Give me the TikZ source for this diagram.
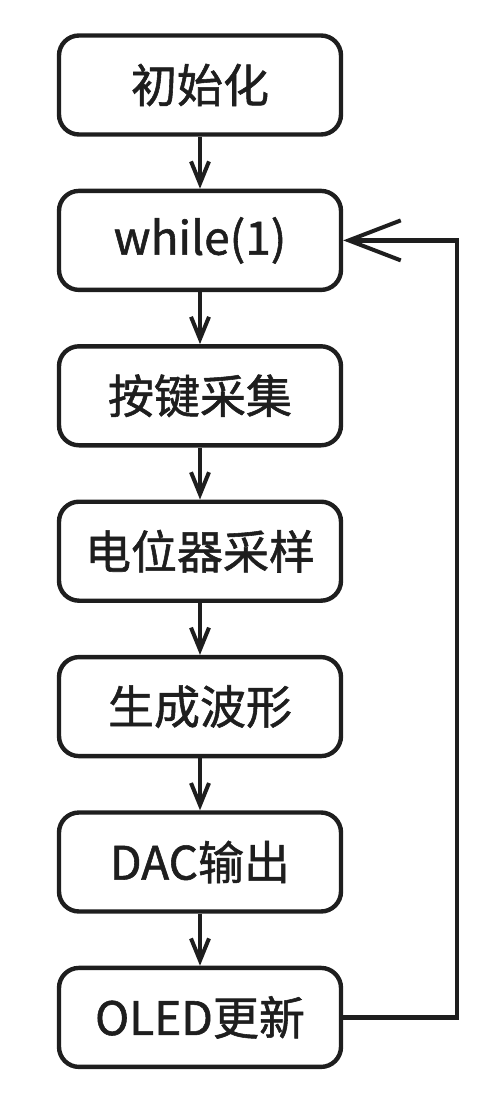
\documentclass[tikz,border=0pt]{standalone}
\usepackage{fontspec}
\newfontfamily\cjk[FakeBold=1.2]{Noto Sans CJK SC}
\usepackage{tikz}
\usetikzlibrary{arrows.meta,positioning}
\definecolor{ink}{HTML}{1E1E1E}
\tikzset{
  stepbox/.style={draw=ink,line width=4.4pt,rounded corners=20pt,fill=white,
    minimum width=282pt,minimum height=99pt,inner sep=0pt,
    font=\cjk\fontsize{46}{50}\selectfont,text=ink},
  flowarrow/.style={-{Straight Barb[length=22pt,width=18pt,line width=4pt]},line width=4pt,draw=ink},
  backarrow/.style={-{Straight Barb[length=52pt,width=40pt,line width=4pt]},line width=4.4pt,draw=ink}
}
\begin{document}
\begin{tikzpicture}[x=1pt,y=1pt,node distance=52pt]
\useasboundingbox (0,0) rectangle (498,-1097);
\node[stepbox] (init) at (200,-85) {初始化};
\node[stepbox,below=of init] (loop) {while(1)};
\node[stepbox,below=of loop] (keys) {按键采集};
\node[stepbox,below=of keys] (pot) {电位器采样};
\node[stepbox,below=of pot] (wave) {生成波形};
\node[stepbox,below=of wave] (dac) {DAC输出};
\node[stepbox,below=of dac] (oled) {OLED更新};
\draw[flowarrow] (init) -- (loop);
\draw[flowarrow] (loop) -- (keys);
\draw[flowarrow] (keys) -- (pot);
\draw[flowarrow] (pot) -- (wave);
\draw[flowarrow] (wave) -- (dac);
\draw[flowarrow] (dac) -- (oled);
\coordinate[right=114pt of oled.east] (turn);
\draw[backarrow] (oled.east) -- (turn) |- (loop.east);
\end{tikzpicture}
\end{document}
